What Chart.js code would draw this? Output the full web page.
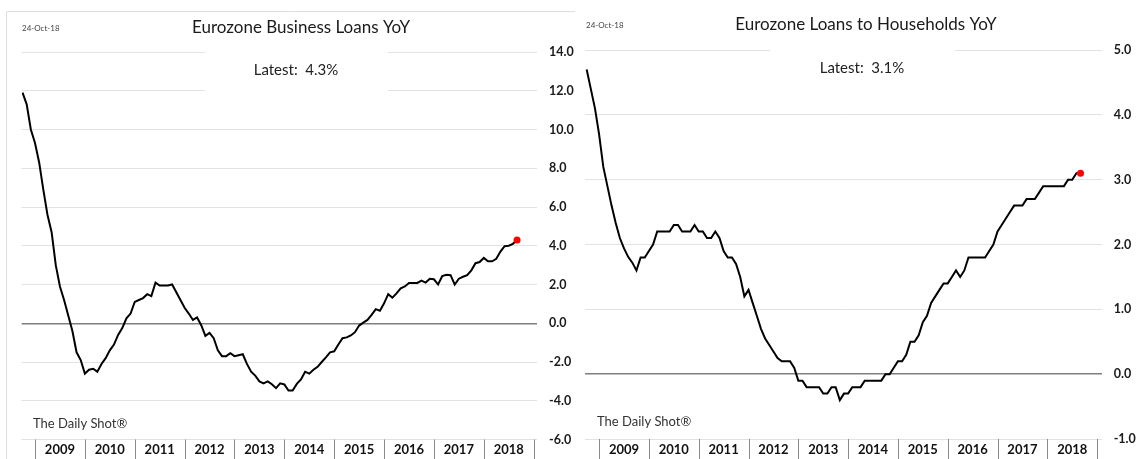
<!DOCTYPE html>
<html>
<head>
<meta charset="utf-8">
<script src="https://cdn.jsdelivr.net/npm/chart.js@4/dist/chart.umd.min.js"></script>
<style>
  html, body { margin: 0; padding: 0; background: #fff; }
  #wrap { position: relative; width: 1141px; height: 459px; overflow: hidden; }
  #left { position: absolute; left: 0; top: 0; }
  #right { position: absolute; left: 575px; top: 0; }
</style>
</head>
<body>
<div id="wrap">
  <canvas id="left" width="575" height="459"></canvas>
  <canvas id="right" width="566" height="459"></canvas>
</div>
<script>
// monthly data, Oct 2008 .. Sep 2018 (index 0 = Oct 2008)
const years = ['2009', '2010', '2011', '2012', '2013', '2014', '2015', '2016', '2017', '2018'];
const asOf = '24-Oct-18';

const businessLoans = [
  11.9, 11.3, 10.0, 9.3, 8.3, 6.9, 5.6, 4.7, 3.0, 1.9,
  1.2, 0.4, -0.4, -1.5, -1.9, -2.6, -2.4, -2.35, -2.5, -2.1,
  -1.8, -1.4, -1.1, -0.6, -0.25, 0.25, 0.5, 1.1, 1.2, 1.3,
  1.5, 1.4, 2.1, 1.95, 1.95, 1.95, 2.0, 1.6, 1.2, 0.8,
  0.5, 0.17, 0.3, -0.1, -0.65, -0.5, -0.77, -1.4, -1.7, -1.7,
  -1.55, -1.7, -1.65, -1.6, -2.1, -2.5, -2.7, -3.0, -3.1, -3.0,
  -3.15, -3.35, -3.1, -3.16, -3.47, -3.47, -3.13, -2.9, -2.5, -2.6,
  -2.4, -2.25, -2.0, -1.76, -1.5, -1.45, -1.1, -0.77, -0.73, -0.63,
  -0.46, -0.12, 0.03, 0.17, 0.43, 0.73, 0.65, 1.03, 1.5, 1.32,
  1.54, 1.8, 1.9, 2.08, 2.08, 2.08, 2.2, 2.1, 2.3, 2.27,
  2.0, 2.44, 2.5, 2.48, 2.0, 2.3, 2.4, 2.48, 2.73, 3.1,
  3.16, 3.37, 3.2, 3.2, 3.33, 3.7, 3.98, 4.0, 4.1, 4.3
];

const householdLoans = [
  4.7, 4.4, 4.1, 3.7, 3.2, 2.9, 2.6, 2.33, 2.1, 1.94,
  1.81, 1.72, 1.6, 1.8, 1.8, 1.9, 2.0, 2.2, 2.2, 2.2,
  2.2, 2.3, 2.3, 2.2, 2.2, 2.2, 2.3, 2.2, 2.2, 2.1,
  2.1, 2.2, 2.1, 1.9, 1.8, 1.8, 1.7, 1.5, 1.2, 1.3,
  1.1, 0.9, 0.7, 0.55, 0.45, 0.35, 0.25, 0.2, 0.2, 0.2,
  0.1, -0.1, -0.1, -0.2, -0.2, -0.2, -0.2, -0.3, -0.3, -0.2,
  -0.2, -0.4, -0.3, -0.3, -0.2, -0.2, -0.2, -0.1, -0.1, -0.1,
  -0.1, -0.1, 0.0, 0.0, 0.1, 0.2, 0.2, 0.3, 0.5, 0.5,
  0.6, 0.8, 0.9, 1.1, 1.2, 1.3, 1.4, 1.4, 1.5, 1.6,
  1.5, 1.6, 1.8, 1.8, 1.8, 1.8, 1.8, 1.9, 2.0, 2.2,
  2.3, 2.4, 2.5, 2.6, 2.6, 2.6, 2.7, 2.7, 2.7, 2.8,
  2.9, 2.9, 2.9, 2.9, 2.9, 2.9, 3.0, 3.0, 3.1, 3.1
];

Chart.defaults.font.family = 'Lato, "Open Sans", sans-serif';
Chart.defaults.color = '#1a1a1a';

const FIRST_JAN = 3; // index of Jan 2009

// draws title, date stamp, "Latest" box, source note and the year axis
const decorPlugin = {
    id: 'decor',
    beforeDatasetsDraw(chart, args, opts) {
        const ctx = chart.ctx;
        ctx.save();
        // white box behind the "Latest" label, hides the grid there
        ctx.fillStyle = '#ffffff';
        ctx.fillRect(opts.boxX, opts.boxY, opts.boxW, opts.boxH);
        ctx.fillStyle = '#222';
        ctx.font = '15px Lato';
        ctx.textAlign = 'center';
        ctx.textBaseline = 'middle';
        ctx.fillText(opts.latest, opts.latestX, opts.latestY);
        ctx.restore();
    },
    afterDraw(chart, args, opts) {
        const { ctx, chartArea } = chart;
        const x = chart.scales.x;
        ctx.save();

        if (opts.frame) {
            ctx.strokeStyle = '#dedede';
            ctx.lineWidth = 1;
            ctx.beginPath();
            ctx.moveTo(6.5, chart.height);
            ctx.lineTo(6.5, 11.5);
            ctx.lineTo(chart.width, 11.5);
            ctx.stroke();
        }

        ctx.fillStyle = '#1a1a1a';
        ctx.font = '17px Lato';
        ctx.textAlign = 'center';
        ctx.textBaseline = 'middle';
        ctx.fillText(opts.title, opts.titleX, opts.titleY);

        ctx.fillStyle = '#444';
        ctx.font = '8px Lato';
        ctx.textAlign = 'left';
        ctx.fillText(asOf, opts.dateX, opts.titleY);

        ctx.fillStyle = '#333';
        ctx.font = '13px Lato';
        ctx.fillText('The Daily Shot®', opts.srcX, opts.srcY);

        // year separators + labels below the plot
        ctx.strokeStyle = '#8a8a8a';
        ctx.lineWidth = 1;
        for (let k = 0; k <= years.length; k++) {
            const px = Math.round(x.getPixelForValue(FIRST_JAN + 12 * k)) + 0.5;
            ctx.beginPath();
            ctx.moveTo(px, chartArea.bottom);
            ctx.lineTo(px, chart.height);
            ctx.stroke();
        }
        ctx.fillStyle = '#111';
        ctx.font = 'bold 13px Lato';
        ctx.textAlign = 'center';
        years.forEach((yr, k) => {
            ctx.fillText(yr, x.getPixelForValue(FIRST_JAN + 6 + 12 * k), chartArea.bottom + 10.5);
        });
        ctx.restore();
    }
};

function makeChart(id, values, cfg) {
    const pts = values.map((v, i) => ({ x: i, y: v }));
    const radius = values.map((v, i) => (i === values.length - 1 ? 3.5 : 0));

    return new Chart(document.getElementById(id), {
        type: 'line',
        data: {
            datasets: [{
                data: pts,
                borderColor: '#000',
                borderWidth: 2,
                tension: 0,
                pointRadius: radius,
                pointHoverRadius: radius,
                pointBackgroundColor: '#ff0000',
                pointBorderWidth: 0
            }]
        },
        options: {
            responsive: false,
            animation: false,
            events: [],
            layout: {
                padding: { left: cfg.left, top: cfg.top, right: 0, bottom: cfg.bottom }
            },
            scales: {
                x: {
                    type: 'linear',
                    display: false,
                    min: cfg.xmin,
                    max: cfg.xmax
                },
                y: {
                    position: 'right',
                    min: cfg.ymin,
                    max: cfg.ymax,
                    afterFit: function (scale) { scale.width = cfg.axisW; },
                    border: { display: false },
                    grid: {
                        drawTicks: false,
                        color: ctx => (ctx.tick && ctx.tick.value === 0 ? '#7f7f7f' : '#e2e2e2'),
                        lineWidth: ctx => (ctx.tick && ctx.tick.value === 0 ? 1.5 : 1)
                    },
                    ticks: {
                        stepSize: cfg.step,
                        padding: 12,
                        color: '#1a1a1a',
                        font: { size: 12.5, weight: 'bold' },
                        callback: v => v.toFixed(1)
                    }
                }
            },
            plugins: {
                legend: { display: false },
                tooltip: { enabled: false },
                decor: cfg.decor
            }
        },
        plugins: [decorPlugin]
    });
}

makeChart('left', businessLoans, {
    left: 21.7, top: 52, bottom: 17.5, axisW: 38,
    xmin: -0.2, xmax: 123.8, ymin: -6, ymax: 14, step: 2,
    decor: {
        frame: true,
        title: 'Eurozone Business Loans YoY', titleX: 301, titleY: 28,
        dateX: 22, latest: 'Latest:  ' + businessLoans[businessLoans.length - 1].toFixed(1) + '%',
        latestX: 296, latestY: 70,
        boxX: 205, boxY: 42, boxW: 183, boxH: 58,
        srcX: 33, srcY: 424
    }
});

makeChart('right', householdLoans, {
    left: 10, top: 50, bottom: 20, axisW: 39.3,
    xmin: -0.4, xmax: 124.1, ymin: -1, ymax: 5, step: 1,
    decor: {
        frame: false,
        title: 'Eurozone Loans to Households YoY', titleX: 291, titleY: 25,
        dateX: 11, latest: 'Latest:  ' + householdLoans[householdLoans.length - 1].toFixed(1) + '%',
        latestX: 287, latestY: 68,
        boxX: 195, boxY: 38, boxW: 185, boxH: 60,
        srcX: 22, srcY: 422
    }
});
</script>
</body>
</html>
